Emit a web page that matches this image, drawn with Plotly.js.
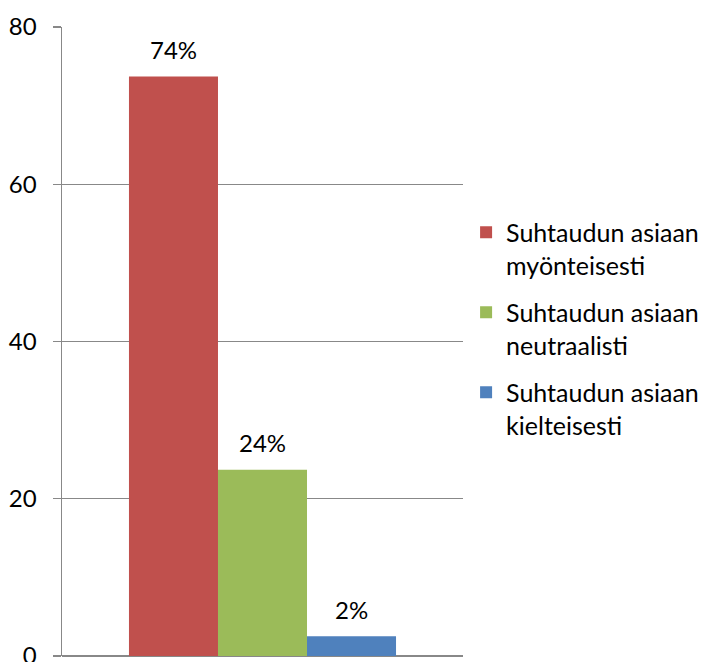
<!DOCTYPE html>
<html>
<head>
<meta charset="utf-8">
<script src="https://cdn.plot.ly/plotly-3.0.1.min.js"></script>
<style>html,body{margin:0;padding:0;background:#fff;}#chart{width:703px;height:662px;}</style>
</head>
<body>
<div id="chart"></div>
<script>
var seriesNames = ["Suhtaudun asiaan<br>myönteisesti", "Suhtaudun asiaan<br>neutraalisti", "Suhtaudun asiaan<br>kielteisesti"];
var seriesValues = [73.7, 23.7, 2.5];
var valueLabels = ["74%", "24%", "2%"];
var seriesColors = ["#C0504D", "#9BBB59", "#4F81BD"];
var category = ["Kaikki"];
var yTicks = [0, 20, 40, 60, 80];

var bargap = 0.334;
var FONT = "Lato, 'Open Sans', sans-serif";

var traces = seriesValues.map(function (v, i) {
  return {
    type: "bar",
    x: category,
    y: [v],
    name: seriesNames[i],
    legendgroup: "g" + i,
    marker: { color: seriesColors[i], line: { width: 0 } },
    hoverinfo: "none"
  };
});

var n = seriesValues.length;
var w = (1 - bargap) / n;
var annotations = seriesValues.map(function (v, i) {
  return {
    xref: "x", yref: "y",
    x: (i - (n - 1) / 2) * w,
    y: v,
    text: valueLabels[i],
    showarrow: false,
    yshift: 27,
    yanchor: "middle",
    xanchor: "center",
    font: { family: FONT, size: 24, color: "#000" }
  };
});

var layout = {
  width: 703, height: 662,
  margin: { l: 62, r: 240, t: 27, b: 6, pad: 0 },
  paper_bgcolor: "#fff", plot_bgcolor: "#fff",
  barmode: "group",
  bargap: bargap,
  bargroupgap: 0,
  showlegend: true,
  font: { family: FONT, size: 24, color: "#000" },
  xaxis: {
    type: "category",
    range: [-0.5, 0.5],
    showticklabels: false,
    showgrid: false,
    zeroline: false,
    showline: false,
    ticks: ""
  },
  yaxis: {
    range: [0, 80],
    tickvals: yTicks,
    ticktext: yTicks.map(String),
    showgrid: true,
    gridcolor: "#888888",
    gridwidth: 1.3,
    zeroline: true,
    zerolinecolor: "#888888",
    zerolinewidth: 1.5,
    showline: true,
    linecolor: "#888888",
    linewidth: 1.5,
    ticks: "outside",
    ticklen: 8,
    tickwidth: 1.3,
    tickcolor: "#888888",
    ticklabelstandoff: 11,
    ticklabeloverflow: "allow",
    tickfont: { family: FONT, size: 24, color: "#000" }
  },
  legend: {
    xref: "container", yref: "container",
    x: 0.663, xanchor: "left",
    y: 0.6835, yanchor: "top",
    valign: "top",
    tracegroupgap: 12,
    itemwidth: 30,
    font: { family: FONT, size: 25, color: "#000" },
    bgcolor: "rgba(0,0,0,0)"
  },
  annotations: annotations
};

Plotly.newPlot("chart", traces, layout, { displayModeBar: false, staticPlot: true });
</script>
</body>
</html>
